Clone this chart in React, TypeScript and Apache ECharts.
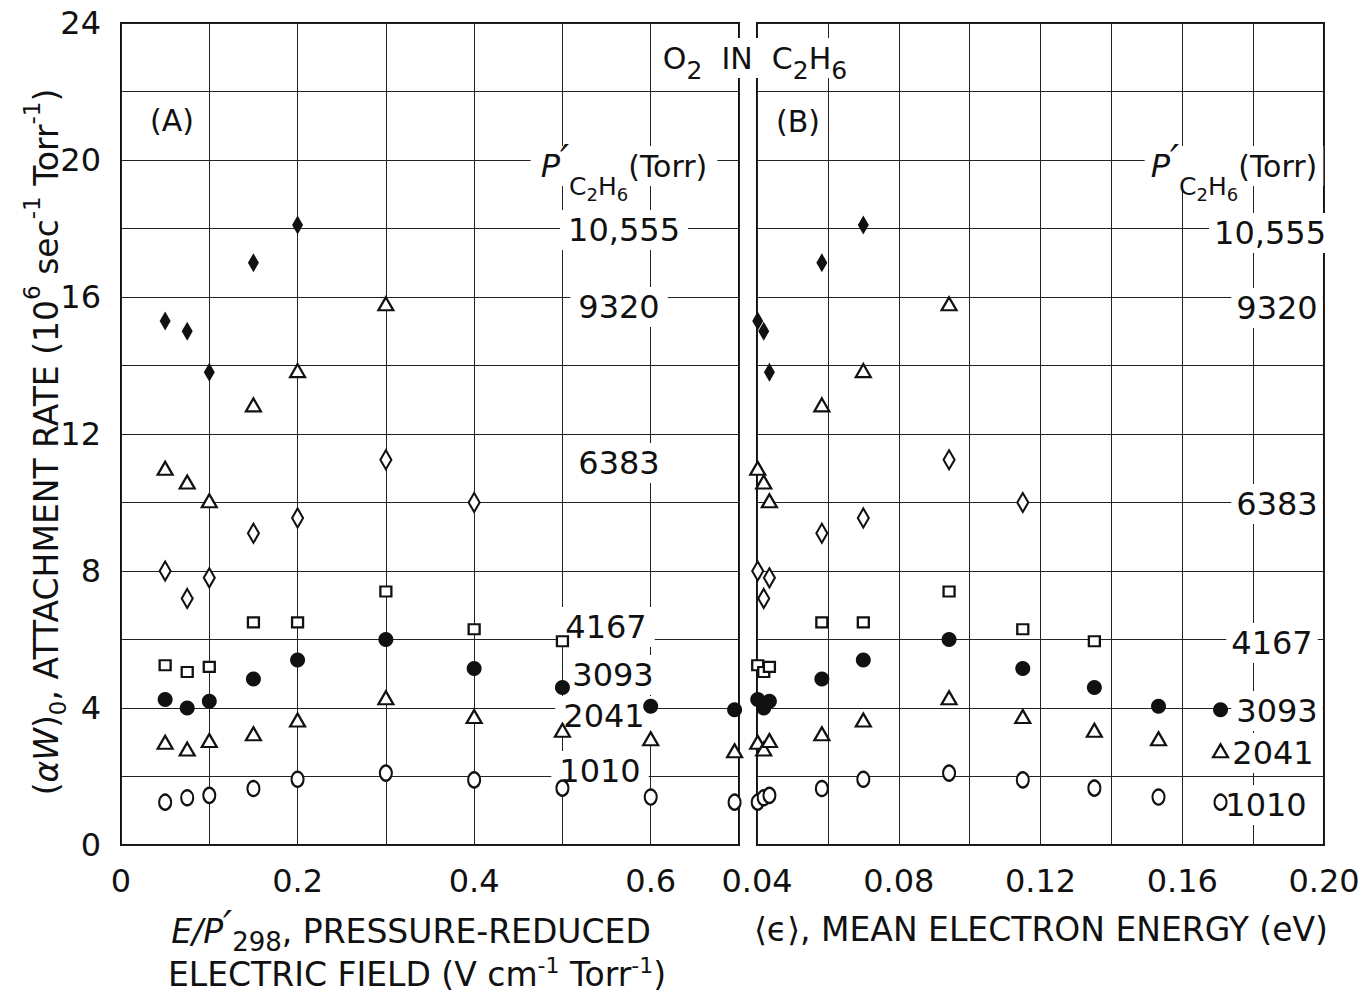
import React, { useEffect, useRef } from "react";
import * as echarts from "echarts";

// Pressure-reduced field E/P'298 (V cm^-1 Torr^-1) at which each rate was measured
const fieldValues = [0.05, 0.075, 0.1, 0.15, 0.2, 0.3, 0.4, 0.5, 0.6, 0.695];
// Corresponding mean electron energies <eps> (eV)
const energyValues = [0.0402, 0.0419, 0.0435, 0.0583, 0.07, 0.0942, 0.115, 0.1352, 0.1533, 0.1708];

// Ethane pressures (Torr) labelling each set of measurements
const pressureLabels = ["10,555", "9320", "6383", "4167", "3093", "2041", "1010"];

// (alpha W)_0 attachment rates, 10^6 sec^-1 Torr^-1
const rate10555 = [15.3, 15.0, 13.8, 17.0, 18.1];
const rate9320 = [11.0, 10.6, 10.05, 12.85, 13.85, 15.8];
const rate6383 = [8.0, 7.2, 7.8, 9.1, 9.55, 11.25, 10.0];
const rate4167 = [5.25, 5.05, 5.2, 6.5, 6.5, 7.4, 6.3, 5.95];
const rate3093 = [4.25, 4.0, 4.2, 4.85, 5.4, 6.0, 5.15, 4.6, 4.05, 3.95];
const rate2041 = [3.0, 2.8, 3.05, 3.25, 3.65, 4.3, 3.75, 3.35, 3.1, 2.75];
const rate1010 = [1.25, 1.38, 1.45, 1.65, 1.92, 2.1, 1.9, 1.66, 1.4, 1.25];

const ratesByPressure = [rate10555, rate9320, rate6383, rate4167, rate3093, rate2041, rate1010];

// Tick labels
const fieldTicks = ["0", "0.2", "0.4", "0.6"];
const energyTicks = ["0.04", "0.08", "0.12", "0.16", "0.20"];
const rateTicks = ["0", "4", "8", "12", "16", "20", "24"];

const FONT = '"DejaVu Sans", "Liberation Sans", sans-serif';
const INK = "#111";

// Marker style for each pressure set, same order as pressureLabels
const markerStyles = [
  { symbol: "diamond", size: [11, 19], filled: true },
  { symbol: "triangle", size: [15, 13], filled: false },
  { symbol: "diamond", size: [11, 19], filled: false },
  { symbol: "rect", size: [11, 10], filled: false },
  { symbol: "circle", size: [15, 15], filled: true },
  { symbol: "triangle", size: [15, 13], filled: false },
  { symbol: "circle", size: [12, 15], filled: false },
];

// Where the pressure annotations sit in each panel (page pixels, text centre)
const labelSpotsA = [
  [624, 230], [619, 307], [619, 463], [606, 627], [613, 675], [604, 716], [600, 771],
];
const labelSpotsB = [
  [1270, 233], [1277, 308], [1277, 504], [1272, 643], [1277, 711], [1273, 753], [1266, 805],
];

const tok = (extra: any) => ({ fontFamily: FONT, fill: INK, ...extra });

function text(x: number, y: number, content: string, style: any, extra: any = {}) {
  return {
    type: "text",
    x,
    y,
    z: 3,
    silent: true,
    ...extra,
    style: {
      text: content,
      fill: INK,
      fontFamily: FONT,
      fontSize: 32,
      align: "center",
      verticalAlign: "middle",
      textAlign: "center",
      textVerticalAlign: "middle",
      ...style,
    },
  };
}

function buildOption() {
  const splitLine = { show: true, lineStyle: { color: "#222", width: 1 } };
  const labelBase = { fontFamily: FONT, fontSize: 32, color: INK };

  const series: any[] = [];
  ratesByPressure.forEach((rates, i) => {
    const m = markerStyles[i];
    const itemStyle = m.filled
      ? { color: INK, borderColor: INK, borderWidth: 0, opacity: 1 }
      : { color: "#fff", borderColor: INK, borderWidth: 2.2, opacity: 1 };
    const common = {
      type: "scatter",
      name: pressureLabels[i],
      symbol: m.symbol,
      symbolSize: m.size,
      itemStyle,
      z: 5,
      silent: true,
    };
    series.push({
      ...common,
      xAxisIndex: 0,
      yAxisIndex: 0,
      data: rates.map((r, j) => [fieldValues[j], r]),
    });
    series.push({
      ...common,
      xAxisIndex: 1,
      yAxisIndex: 1,
      data: rates.map((r, j) => [energyValues[j], r]),
    });
  });

  const numberLabel = (spot: number[], s: string, pad: number[]) =>
    text(spot[0], spot[1], s, { fontSize: 32, backgroundColor: "#fff", padding: pad });

  const pressureHeadRich = {
    m: tok({ fontSize: 30, lineHeight: 34 }),
    it: tok({ fontSize: 32, lineHeight: 34, fontStyle: "italic" }),
    pr: tok({ fontSize: 40, lineHeight: 40, fontStyle: "italic", padding: [0, 0, 12, 0] }),
    sb: tok({ fontSize: 25, lineHeight: 25, padding: [40, 0, 0, 0] }),
    ssb: tok({ fontSize: 18, lineHeight: 18, padding: [56, 0, 0, 0] }),
  };
  const pressureHead = "{it|P}{pr|′}{sb|C}{ssb|2}{sb|H}{ssb|6}{m|(Torr)}";

  const graphic: any[] = [
    // Title across both panels
    text(
      755,
      58,
      "{m|O}{sb|2}{m|  IN  C}{sb|2}{m|H}{sb|6}",
      {
        backgroundColor: "#fff",
        padding: [3, 10],
        rich: {
          m: tok({ fontSize: 30, lineHeight: 34 }),
          sb: tok({ fontSize: 25, lineHeight: 25, padding: [24, 0, 0, 0] }),
        },
      }
    ),
    text(172, 120, "(A)", { fontSize: 30 }),
    text(798, 121, "(B)", { fontSize: 30 }),
    text(624, 166, pressureHead, {
      backgroundColor: "#fff",
      padding: [0, 10],
      rich: pressureHeadRich,
    }),
    text(1234, 166, pressureHead, {
      backgroundColor: "#fff",
      padding: [0, 6],
      rich: pressureHeadRich,
    }),
    // Axis titles
    text(411, 931, "{it|E/P}{pr|′}{sb|298}{m|, PRESSURE-REDUCED}", {
      rich: {
        m: tok({ fontSize: 33, lineHeight: 38 }),
        it: tok({ fontSize: 33, lineHeight: 38, fontStyle: "italic" }),
        pr: tok({ fontSize: 40, lineHeight: 40, fontStyle: "italic", padding: [0, 0, 10, 0] }),
        sb: tok({ fontSize: 26, lineHeight: 26, padding: [22, 0, 0, 0] }),
      },
    }),
    text(417, 974, "{m|ELECTRIC FIELD (V cm}{sp|-1}{m| Torr}{sp|-1}{m|)}", {
      rich: {
        m: tok({ fontSize: 33, lineHeight: 38 }),
        sp: tok({ fontSize: 22, lineHeight: 22, padding: [0, 0, 18, 0] }),
      },
    }),
    text(1041, 929, "⟨ϵ⟩, MEAN ELECTRON ENERGY (eV)", { fontSize: 33 }),
    text(
      46,
      442,
      "{m|(}{it|αW}{m|)}{sb|0}{m|, ATTACHMENT RATE (10}{sp|6}{m| sec}{sp|-1}{m| Torr}{sp|-1}{m|)}",
      {
        rich: {
          m: tok({ fontSize: 33, lineHeight: 37 }),
          it: tok({ fontSize: 33, lineHeight: 37, fontStyle: "italic" }),
          sb: tok({ fontSize: 23, lineHeight: 23, padding: [24, 0, 0, 0] }),
          sp: tok({ fontSize: 23, lineHeight: 23, padding: [0, 0, 28, 0] }),
        },
      },
      { rotation: Math.PI / 2 }
    ),
  ];

  pressureLabels.forEach((p, i) => {
    graphic.push(numberLabel(labelSpotsA[i], p, [4, 8]));
    graphic.push(numberLabel(labelSpotsB[i], p, [4, 5]));
  });

  return {
    animation: false,
    backgroundColor: "#fff",
    textStyle: { fontFamily: FONT },
    grid: [
      { left: 121, right: 628, top: 23, bottom: 149, show: true, borderColor: INK, borderWidth: 2, backgroundColor: "transparent" },
      { left: 757, right: 43, top: 23, bottom: 149, show: true, borderColor: INK, borderWidth: 2, backgroundColor: "transparent" },
    ],
    xAxis: [
      {
        gridIndex: 0,
        type: "value",
        min: 0,
        max: 0.7,
        interval: 0.1,
        axisLine: { show: false },
        axisTick: { show: false },
        splitLine,
        axisLabel: {
          ...labelBase,
          margin: 20,
          formatter: (v: number) => {
            const s = v === 0 ? "0" : v.toFixed(1);
            return fieldTicks.includes(s) ? s : "";
          },
        },
      },
      {
        gridIndex: 1,
        type: "value",
        min: 0.04,
        max: 0.2,
        interval: 0.02,
        axisLine: { show: false },
        axisTick: { show: false },
        splitLine,
        axisLabel: {
          ...labelBase,
          margin: 20,
          formatter: (v: number) => {
            const s = v.toFixed(2);
            return energyTicks.includes(s) ? s : "";
          },
        },
      },
    ],
    yAxis: [
      {
        gridIndex: 0,
        type: "value",
        min: 0,
        max: 24,
        interval: 2,
        axisLine: { show: false },
        axisTick: { show: false },
        splitLine,
        axisLabel: {
          ...labelBase,
          margin: 20,
          formatter: (v: number) => {
            const s = String(Math.round(v));
            return rateTicks.includes(s) ? s : "";
          },
        },
      },
      {
        gridIndex: 1,
        type: "value",
        min: 0,
        max: 24,
        interval: 2,
        axisLine: { show: false },
        axisTick: { show: false },
        splitLine,
        axisLabel: { show: false },
      },
    ],
    series,
    graphic,
  };
}

export default function App() {
  const ref = useRef<HTMLDivElement>(null);
  useEffect(() => {
    if (!ref.current) return;
    const chart = echarts.init(ref.current, null, { renderer: "svg" });
    chart.setOption(buildOption() as any);
    return () => chart.dispose();
  }, []);
  return (
    <div
      ref={ref}
      style={{ position: "fixed", left: 0, top: 0, width: 1367, height: 994, background: "#fff" }}
    />
  );
}
